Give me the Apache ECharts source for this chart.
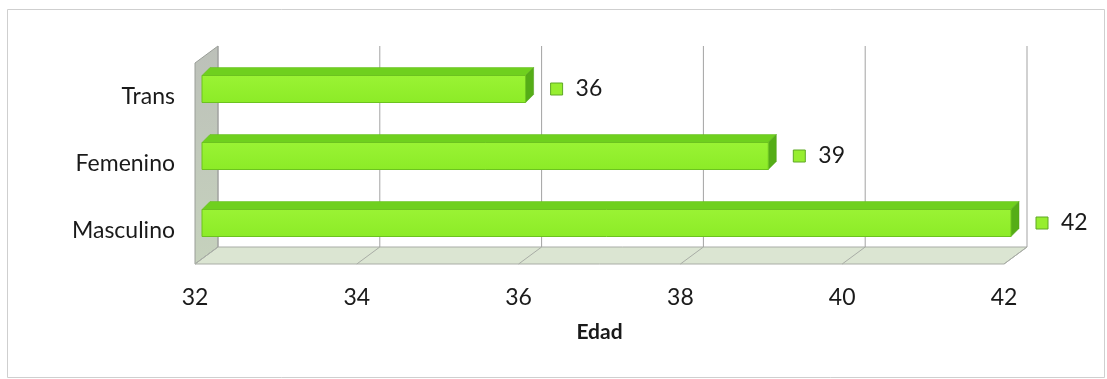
<!DOCTYPE html>
<html>
<head>
<meta charset="utf-8">
<script src="https://cdn.jsdelivr.net/npm/echarts@6/dist/echarts.min.js"></script>
<style>
  html, body { margin: 0; padding: 0; background: #ffffff; }
  #chart { width: 1107px; height: 379px; }
</style>
</head>
<body>
<div id="chart"></div>
<script>
// Average age by gender
const categories = ['Masculino', 'Femenino', 'Trans'];
const edades = [42, 39, 36];
const xTicks = [32, 34, 36, 38, 40, 42];
const axisName = 'Edad';

const FONT = 'Lato, "Open Sans", sans-serif';
const DEPTH = [23, -17];      // wall depth (front plane -> back plane)
const BAR_SHIFT = [7, -7.5];  // bar front face offset inside the depth
const BAR_DEPTH = [8, -8];    // bar's own depth
const BAR_H = 27;

const chart = echarts.init(document.getElementById('chart'), null, { renderer: 'canvas' });

function renderWalls(params, api) {
  const cs = params.coordSys;
  const x0 = cs.x, x1 = cs.x + cs.width;
  const y0 = cs.y, y1 = cs.y + cs.height;
  const dx = DEPTH[0], dy = DEPTH[1];
  const children = [];
  // left side wall
  children.push({
    type: 'polygon',
    shape: { points: [[x0, y0], [x0 + dx, y0 + dy], [x0 + dx, y1 + dy], [x0, y1]] },
    style: {
      fill: new echarts.graphic.LinearGradient(0, 0, 0, 1, [
        { offset: 0, color: '#bcc0b9' },
        { offset: 1, color: '#c6d2bd' }
      ]),
      stroke: '#9a9e98', lineWidth: 1
    }
  });
  // floor
  children.push({
    type: 'polygon',
    shape: { points: [[x0, y1], [x0 + dx, y1 + dy], [x1 + dx, y1 + dy], [x1, y1]] },
    style: { fill: '#dbe5d2', stroke: '#a9ada6', lineWidth: 1 }
  });
  // grid lines on back wall and floor
  xTicks.forEach(function (t) {
    const fx = api.coord([t, 0])[0];
    const bx = fx + dx;
    children.push({
      type: 'line',
      shape: { x1: bx, y1: y0 + dy, x2: bx, y2: y1 + dy },
      style: { stroke: '#a3a3a3', lineWidth: 1 }
    });
    children.push({
      type: 'line',
      shape: { x1: bx, y1: y1 + dy, x2: fx, y2: y1 },
      style: { stroke: '#a9ada6', lineWidth: 1 }
    });
  });
  return { type: 'group', children: children };
}

function renderBar(params, api) {
  const v = api.value(0);
  const idx = api.value(1);
  const end = api.coord([v, idx]);
  const start = api.coord([xTicks[0], idx]);
  const xl = start[0] + BAR_SHIFT[0];
  const xr = end[0] + BAR_SHIFT[0];
  const cy = end[1] + BAR_SHIFT[1];
  const yt = cy - BAR_H / 2, yb = cy + BAR_H / 2;
  const bx = BAR_DEPTH[0], by = BAR_DEPTH[1];
  return {
    type: 'group',
    children: [
      { // top face
        type: 'polygon',
        shape: { points: [[xl, yt], [xl + bx, yt + by], [xr + bx, yt + by], [xr, yt]] },
        style: { fill: '#6fd01e', stroke: '#62bd1a', lineWidth: 0.5 }
      },
      { // right face
        type: 'polygon',
        shape: { points: [[xr, yt], [xr + bx, yt + by], [xr + bx, yb + by], [xr, yb]] },
        style: { fill: '#55ad17', stroke: '#4e9f16', lineWidth: 0.5 }
      },
      { // front face
        type: 'rect',
        shape: { x: xl, y: yt, width: xr - xl, height: BAR_H },
        style: {
          fill: new echarts.graphic.LinearGradient(0, 0, 0, 1, [
            { offset: 0, color: '#9af334' },
            { offset: 1, color: '#8ceb27' }
          ]),
          stroke: '#6cc31f', lineWidth: 1
        }
      },
      { // legend key of the value label
        type: 'rect',
        shape: { x: xr + 25, y: cy - 6, width: 12, height: 12 },
        style: { fill: '#97ee30', stroke: '#5ea825', lineWidth: 1 }
      },
      {
        type: 'text',
        x: xr + 50, y: cy,
        style: {
          text: String(v), fill: '#1a1a1a', font: '23px ' + FONT,
          verticalAlign: 'middle', align: 'left'
        }
      }
    ]
  };
}

chart.setOption({
  animation: false,
  backgroundColor: '#ffffff',
  graphic: [{
    type: 'rect', z: 0,
    shape: { x: 7.5, y: 9.5, width: 1097, height: 368 },
    style: { fill: 'none', stroke: '#cfcfcf', lineWidth: 1 }
  }],
  grid: { left: 195, right: 103, top: 63, bottom: 115 },
  xAxis: {
    type: 'value', min: 32, max: 42, interval: 2,
    splitLine: { show: false }, axisLine: { show: false }, axisTick: { show: false },
    axisLabel: { margin: 22, fontSize: 23, color: '#1a1a1a', fontFamily: FONT },
    name: axisName, nameLocation: 'middle', nameGap: 58,
    nameTextStyle: { fontSize: 21, fontWeight: 'bold', color: '#1a1a1a', fontFamily: FONT }
  },
  yAxis: {
    type: 'category', data: categories,
    axisLine: { show: false }, axisTick: { show: false }, splitLine: { show: false },
    axisLabel: { margin: 20, fontSize: 23, color: '#1a1a1a', fontFamily: FONT }
  },
  series: [
    {
      type: 'custom', z: 1, silent: true,
      renderItem: renderWalls,
      data: [[xTicks[0], 0]]
    },
    {
      type: 'custom', z: 2,
      renderItem: renderBar,
      data: edades.map(function (v, i) { return [v, i]; })
    }
  ]
});
</script>
</body>
</html>
